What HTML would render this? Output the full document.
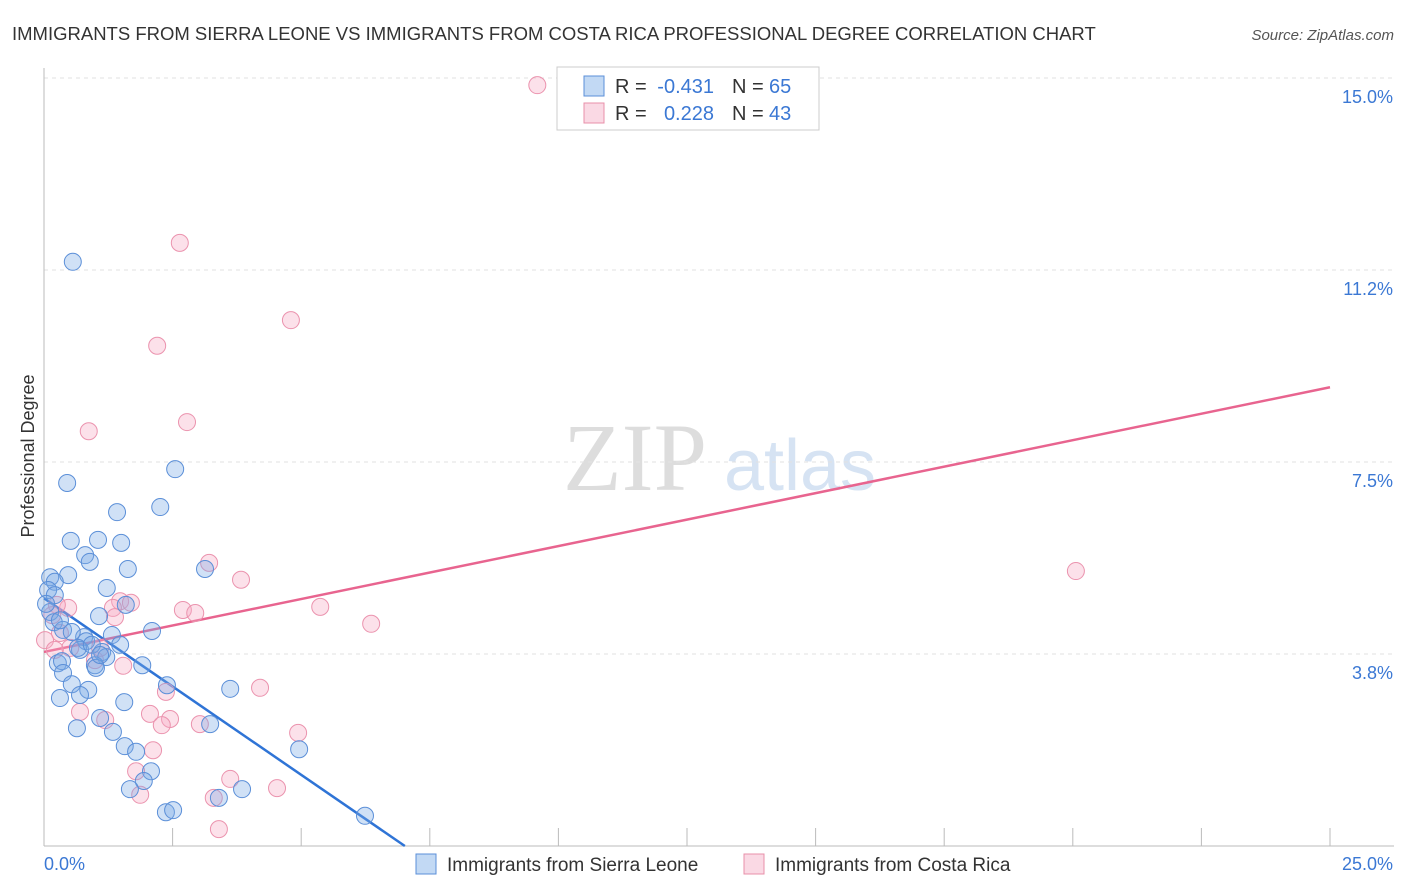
<!DOCTYPE html>
<html><head><meta charset="utf-8"><style>
body{margin:0;background:#fff;font-family:"Liberation Sans",sans-serif;}
svg{display:block}
</style></head><body>
<svg id="chart" width="1406" height="892">
<text x="12" y="40" font-size="18.5" fill="#333">IMMIGRANTS FROM SIERRA LEONE VS IMMIGRANTS FROM COSTA RICA PROFESSIONAL DEGREE CORRELATION CHART</text>
<text x="1394" y="40" font-size="15" fill="#555" font-style="italic" text-anchor="end">Source: ZipAtlas.com</text>
<text transform="translate(34,456) rotate(-90)" font-size="18" fill="#333" text-anchor="middle">Professional Degree</text>
<g><text x="635" y="490" font-size="96" fill="#ddd" font-family="Liberation Serif,serif" text-anchor="middle">ZIP</text><text x="800" y="490" font-size="72" fill="#d6e3f3" text-anchor="middle">atlas</text></g>
<g id="grid"></g><g id="axes"></g><g id="lines"></g><g id="pts"></g>
<g>
<rect x="557" y="67" width="262" height="63" fill="#fff" stroke="#ccc"/>
<rect x="584" y="76" width="20" height="20" fill="rgba(120,170,230,0.45)" stroke="#5b8fd8"/>
<rect x="584" y="103" width="20" height="20" fill="rgba(245,170,195,0.45)" stroke="#e890aa"/>
<text x="615" y="93" font-size="20" fill="#333">R =</text>
<text x="714" y="93" font-size="20" fill="#3b78d4" text-anchor="end">-0.431</text>
<text x="732" y="93" font-size="20" fill="#333">N =</text>
<text x="769" y="93" font-size="20" fill="#3b78d4">65</text>
<text x="615" y="120" font-size="20" fill="#333">R =</text>
<text x="714" y="120" font-size="20" fill="#3b78d4" text-anchor="end">0.228</text>
<text x="732" y="120" font-size="20" fill="#333">N =</text>
<text x="769" y="120" font-size="20" fill="#3b78d4">43</text>
</g>
<g>
<rect x="416" y="854" width="20" height="20" fill="rgba(120,170,230,0.45)" stroke="#5b8fd8"/>
<text x="447" y="871" font-size="19" fill="#333">Immigrants from Sierra Leone</text>
<rect x="744" y="854" width="20" height="20" fill="rgba(245,170,195,0.45)" stroke="#e890aa"/>
<text x="775" y="871" font-size="19" fill="#333">Immigrants from Costa Rica</text>
</g>
</svg>
<script>
const yTicks=[3.75,7.5,11.25,15];
const yTickLabels=["3.8%","7.5%","11.2%","15.0%"];
const xTickVals=[0,2.5,5,7.5,10,12.5,15,17.5,20,22.5,25];
const blueX=[0.56,0.45,2.55,1.42,2.26,0.52,1.05,1.50,0.80,0.89,1.63,0.47,0.12,0.21,0.08,1.22,1.59,1.07,0.12,0.19,3.13,2.10,0.37,0.78,0.54,1.32,0.82,1.48,0.70,1.13,0.66,1.21,0.99,1.01,1.91,0.27,0.35,0.37,0.54,0.86,2.39,3.62,0.70,0.31,1.56,1.09,3.23,0.64,1.34,1.57,1.79,4.96,2.08,1.94,1.67,3.85,3.40,2.37,2.51,6.24,0.21,0.04,0.31,0.93,1.09];
const blueY=[11.41,7.09,7.36,6.52,6.62,5.96,5.98,5.92,5.68,5.55,5.41,5.29,5.25,5.16,5.00,5.04,4.71,4.49,4.57,4.37,5.41,4.20,4.22,4.08,4.18,4.12,4.00,3.93,3.83,3.79,3.87,3.69,3.53,3.48,3.53,3.57,3.61,3.38,3.16,3.05,3.14,3.07,2.95,2.89,2.81,2.50,2.38,2.30,2.23,1.95,1.84,1.89,1.46,1.27,1.11,1.11,0.94,0.66,0.70,0.59,4.90,4.73,4.41,3.93,3.73];
const pinkX=[9.59,2.64,4.80,2.20,0.87,2.78,20.06,3.21,3.83,5.37,6.36,2.70,2.94,1.48,1.69,1.34,1.38,0.47,0.25,0.16,0.31,0.02,0.51,0.99,1.54,4.20,2.37,2.06,0.70,1.19,2.45,2.29,3.03,4.94,2.12,1.79,3.62,1.87,3.30,4.53,3.40,0.21,1.09];
const pinkY=[14.86,11.78,10.27,9.77,8.10,8.28,5.37,5.53,5.20,4.67,4.34,4.61,4.55,4.78,4.75,4.65,4.47,4.65,4.71,4.51,4.16,4.02,3.87,3.63,3.52,3.09,3.01,2.58,2.62,2.46,2.48,2.36,2.38,2.21,1.87,1.46,1.31,1.00,0.94,1.13,0.33,3.83,3.87];
const blueLine=[4.84,-0.69]; // intercept, slope
const pinkLine=[3.79,0.2068];
const X=v=>44+v/25*1286, Y=v=>846-v/15*768;
const NS="http://www.w3.org/2000/svg";
function mk(t,a,p){const e=document.createElementNS(NS,t);for(const k in a)e.setAttribute(k,a[k]);p.appendChild(e);return e;}
const grid=document.getElementById('grid'),axes=document.getElementById('axes');
yTicks.forEach((t,i)=>{
 const g=mk('line',{x1:44,x2:1394,y1:Y(t),y2:Y(t),stroke:'#e2e2e2','stroke-dasharray':'4,4'},grid);
 
 
 const l=mk('text',{x:1393,y:Y(t)+25,'font-size':18,fill:'#3b78d4','text-anchor':'end'},axes);
 l.textContent=yTickLabels[i];
 
 
});
mk('line',{x1:44,x2:44,y1:68,y2:846,stroke:'#bbb'},axes);
mk('line',{x1:44,x2:1394,y1:846,y2:846,stroke:'#bbb'},axes);
xTickVals.forEach(v=>{const t=mk('line',{x1:X(v),x2:X(v),y1:828,y2:846,stroke:'#bbb'},axes);
 
 });
const xl=mk('text',{x:44,y:870,'font-size':18,fill:'#3b78d4'},axes);xl.textContent="0.0%";


const xr=mk('text',{x:1393,y:870,'font-size':18,fill:'#3b78d4','text-anchor':'end'},axes);xr.textContent="25.0%";


const pts=document.getElementById('pts');
pinkX.forEach((x,i)=>{const c=mk('circle',{cx:X(x),cy:Y(pinkY[i]),r:8.5,fill:'rgba(245,170,195,0.35)',stroke:'#eb93ae','stroke-width':1},pts);
 
 });
blueX.forEach((x,i)=>{const c=mk('circle',{cx:X(x),cy:Y(blueY[i]),r:8.5,fill:'rgba(120,170,230,0.35)',stroke:'#5b8fd8','stroke-width':1},pts);
 
 });
const lines=document.getElementById('lines');
const bx2=-blueLine[0]/blueLine[1];
const bl=mk('line',{x1:X(0),y1:Y(blueLine[0]),x2:X(bx2),y2:Y(0),stroke:'#2f74d6','stroke-width':2.5},lines);


const pl=mk('line',{x1:X(0),y1:Y(pinkLine[0]),x2:X(25),y2:Y(pinkLine[0]+25*pinkLine[1]),stroke:'#e8648f','stroke-width':2.5},lines);


</script>
</body></html>
